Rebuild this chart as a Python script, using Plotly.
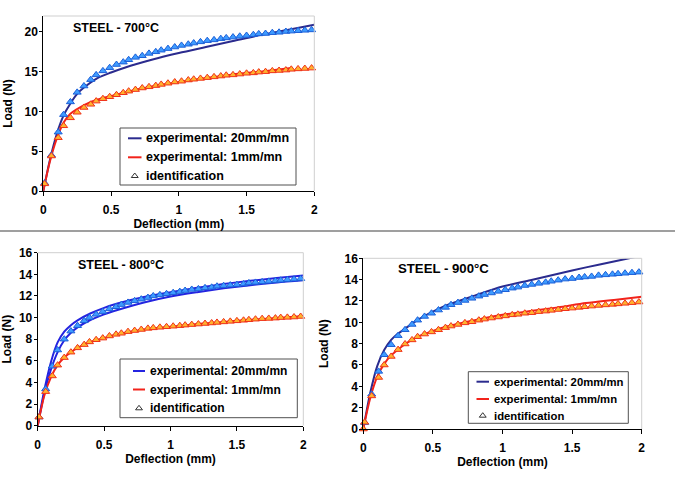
import plotly.graph_objects as go

# ---------------- data ----------------
ident_x = [0.01, 0.06, 0.11, 0.15, 0.20, 0.25, 0.30, 0.35, 0.39, 0.44, 0.49, 0.54, 0.59, 0.63,
           0.68, 0.73, 0.78, 0.83, 0.87, 0.92, 0.97, 1.02, 1.07, 1.11, 1.16, 1.21, 1.26, 1.31,
           1.35, 1.40, 1.45, 1.50, 1.55, 1.59, 1.64, 1.69, 1.74, 1.79, 1.83, 1.88, 1.93, 1.98]

line_x = [0, 0.05, 0.1, 0.15, 0.2, 0.25, 0.3, 0.4, 0.5, 0.6, 0.8, 1.0, 1.2, 1.4, 1.6, 1.8, 2.0]

# 700 C
blue700_line = [0, 4.0, 7.2, 9.5, 11.0, 12.2, 13.0, 14.2, 14.9, 15.5, 16.5, 17.35, 18.1, 18.85, 19.6, 20.25, 20.9]
red700_line_x = [0, 0.05, 0.1, 0.15, 0.2, 0.25, 0.3, 0.4, 0.5, 0.6, 0.8, 1.0, 1.2, 1.4, 1.6, 1.83]
red700_line = [0, 3.8, 6.6, 8.6, 9.7, 10.3, 10.8, 11.5, 11.95, 12.4, 13.15, 13.7, 14.2, 14.65, 15.0, 15.45]
blue700_tri = [1.0, 4.5, 7.4, 9.6, 11.2, 12.4, 13.2, 14.0, 14.6, 15.1, 15.5, 15.9, 16.2, 16.5, 16.8, 17.0,
               17.3, 17.5, 17.7, 17.9, 18.1, 18.3, 18.45, 18.6, 18.75, 18.9, 19.0, 19.15, 19.25, 19.35,
               19.45, 19.55, 19.65, 19.75, 19.8, 19.9, 19.95, 20.05, 20.1, 20.15, 20.2, 20.25]
red700_tri = [0.9, 4.4, 6.7, 8.2, 9.2, 9.9, 10.5, 10.9, 11.3, 11.6, 11.85, 12.1, 12.35, 12.55, 12.75, 12.95,
              13.1, 13.25, 13.4, 13.55, 13.7, 13.8, 13.95, 14.05, 14.15, 14.25, 14.35, 14.45, 14.55, 14.6,
              14.7, 14.8, 14.85, 14.95, 15.0, 15.1, 15.15, 15.2, 15.3, 15.35, 15.4, 15.45]

# 800 C
blue800_lineA = [0, 3.3, 5.9, 7.7, 8.7, 9.3, 9.75, 10.4, 10.9, 11.3, 11.9, 12.35, 12.75, 13.1, 13.4, 13.65, 13.9]
blue800_lineB = [0, 3.0, 5.2, 6.8, 7.9, 8.6, 9.1, 9.8, 10.3, 10.7, 11.4, 11.95, 12.35, 12.7, 13.0, 13.25, 13.45]
red800_line = [0, 2.8, 4.5, 5.6, 6.3, 6.8, 7.2, 7.75, 8.1, 8.45, 8.9, 9.15, 9.4, 9.6, 9.8, 9.95, 10.15]
blue800_tri = [0.8, 3.4, 5.5, 7.0, 8.0, 8.75, 9.25, 9.7, 10.0, 10.3, 10.55, 10.8, 11.0, 11.2, 11.4, 11.55,
               11.7, 11.85, 12.0, 12.1, 12.2, 12.3, 12.4, 12.5, 12.6, 12.65, 12.75, 12.8, 12.9, 12.95,
               13.0, 13.05, 13.1, 13.2, 13.25, 13.3, 13.35, 13.4, 13.45, 13.5, 13.55, 13.6]
red800_tri = [0.8, 3.15, 4.6, 5.6, 6.3, 6.8, 7.2, 7.5, 7.75, 7.95, 8.1, 8.3, 8.45, 8.55, 8.7, 8.8,
              8.9, 9.0, 9.05, 9.1, 9.15, 9.2, 9.25, 9.3, 9.35, 9.4, 9.45, 9.5, 9.55, 9.6,
              9.65, 9.7, 9.75, 9.8, 9.85, 9.9, 9.92, 9.95, 10.0, 10.02, 10.05, 10.1]

# 900 C
blue900_line_x = [0, 0.05, 0.1, 0.15, 0.2, 0.25, 0.3, 0.4, 0.5, 0.6, 0.8, 1.0, 1.2, 1.4, 1.6, 1.8, 1.98]
blue900_line = [0, 3.4, 5.9, 7.4, 8.35, 8.95, 9.4, 10.3, 11.0, 11.6, 12.5, 13.35, 13.95, 14.55, 15.15, 15.7, 16.2]
red900_line = [0, 2.9, 4.9, 6.1, 6.9, 7.45, 7.95, 8.7, 9.2, 9.6, 10.2, 10.7, 11.05, 11.4, 11.8, 12.1, 12.4]
blue900_tri = [0.6, 3.26, 5.4, 6.96, 7.9, 8.75, 9.3, 9.8, 10.2, 10.55, 10.85, 11.15, 11.4, 11.65, 11.85, 12.05,
               12.25, 12.45, 12.6, 12.75, 12.9, 13.05, 13.2, 13.3, 13.45, 13.55, 13.65, 13.75, 13.85, 13.95,
               14.05, 14.1, 14.2, 14.25, 14.3, 14.4, 14.45, 14.5, 14.55, 14.6, 14.65, 14.7]
red900_tri_x = [0.0] + ident_x
red900_tri = [0.0, 0.63, 3.1, 4.83, 6.0, 6.8, 7.44, 7.97, 8.35, 8.65, 8.9, 9.1, 9.3, 9.5, 9.65, 9.8,
              9.95, 10.05, 10.2, 10.3, 10.4, 10.5, 10.6, 10.7, 10.75, 10.85, 10.9, 11.0, 11.05, 11.12,
              11.2, 11.27, 11.33, 11.4, 11.46, 11.52, 11.58, 11.63, 11.68, 11.73, 11.78, 11.84, 11.9]

titles = ["STEEL - 700°C", "STEEL - 800°C", "STEEL - 900°C"]
legend_labels = ["experimental: 20mm/mn", "experimental: 1mm/mn", "identification"]
x_ticks = [0, 0.5, 1, 1.5, 2]
x_ticktext = ["0", "0.5", "1", "1.5", "2"]

# ---------------- styles ----------------
W, H = 675, 479
FONT = "Liberation Sans, Arial, sans-serif"
NAVY = "#2B2B8E"
BRIGHT_BLUE = "#2424E0"
RED = "#F2231B"
TRI_BLUE = dict(color="#3E9CFF", line=dict(color="#1C5FD8", width=1))
TRI_ORANGE = dict(color="#FFB22E", line=dict(color="#F0321A", width=1))


def px(x):
    return x / W


def py(y):
    return 1 - y / H


fig = go.Figure()


def line(x, y, color, ax):
    fig.add_trace(go.Scatter(x=x, y=y, mode="lines", cliponaxis=False,
                             line=dict(color=color, width=2, shape="spline", smoothing=0.8),
                             xaxis=ax[0], yaxis=ax[1], showlegend=False, hoverinfo="skip"))


def tri(x, y, style, ax):
    fig.add_trace(go.Scatter(x=x, y=y, mode="markers", cliponaxis=False,
                             marker=dict(symbol="triangle-up", size=7, **style),
                             xaxis=ax[0], yaxis=ax[1], showlegend=False))


A1, A2, A3 = ("x", "y"), ("x2", "y2"), ("x3", "y3")

# 700
line(line_x, blue700_line, NAVY, A1)
line(red700_line_x, red700_line, RED, A1)
tri(ident_x, blue700_tri, TRI_BLUE, A1)
tri(ident_x, red700_tri, TRI_ORANGE, A1)
# 800
line(line_x, blue800_lineA, BRIGHT_BLUE, A2)
line(line_x, blue800_lineB, BRIGHT_BLUE, A2)
line(line_x, red800_line, RED, A2)
tri(ident_x, blue800_tri, TRI_BLUE, A2)
tri(ident_x, red800_tri, TRI_ORANGE, A2)
# 900
line(blue900_line_x, blue900_line, NAVY, A3)
line(line_x, red900_line, RED, A3)
tri(ident_x, blue900_tri, TRI_BLUE, A3)
tri(red900_tri_x, red900_tri, TRI_ORANGE, A3)

# plot-area pixel boxes (left, top, right, bottom)
boxes = [(43.3, 16, 314.3, 191), (37.7, 252.7, 303.3, 425.7), (363.3, 258.3, 641.7, 429)]
yranges = [[0, 22], [0, 16], [0, 16]]
ydticks = [5, 2, 2]
ystand = [9, 22, 13]
xstand = [0, 3, 3]

tickfont = dict(family=FONT, size=12, color="black", weight="bold")
titlefont = dict(family=FONT, size=12, color="black", weight="bold")

for i, (l, t, r, b) in enumerate(boxes):
    sfx = "" if i == 0 else str(i + 1)
    fig.update_layout(**{
        "xaxis" + sfx: dict(domain=[px(l), px(r)], range=[0, 2], tickvals=x_ticks, ticktext=x_ticktext,
                            anchor="y" + sfx, showline=True, linecolor="black", linewidth=1,
                            ticks="outside", ticklen=4, tickcolor="black", showgrid=False, zeroline=False,
                            tickfont=tickfont, automargin=False, ticklabelstandoff=4,
                            title=dict(text="Deflection (mm)", font=titlefont, standoff=xstand[i])),
        "yaxis" + sfx: dict(domain=[py(b), py(t)], range=yranges[i], dtick=ydticks[i], tick0=0,
                            anchor="x" + sfx, showline=True, linecolor="black", linewidth=1,
                            ticks="outside", ticklen=3, tickcolor="black", showgrid=False, zeroline=False,
                            tickfont=tickfont, automargin=False, ticklabelstandoff=-1,
                            title=dict(text="Load (N)", font=titlefont, standoff=ystand[i])),
    })
    xr = "x" + sfx + " domain"
    yr = "y" + sfx + " domain"
    fig.add_shape(type="line", xref=xr, yref=yr, x0=0, x1=1, y0=1, y1=1, line=dict(color="#CFCFCF", width=1))
    fig.add_shape(type="line", xref=xr, yref=yr, x0=1, x1=1, y0=0, y1=1, line=dict(color="#CFCFCF", width=1))

# full-page overlay axes in pixel units, used only for the legend symbols
fig.update_layout(
    xaxis4=dict(domain=[0, 1], range=[0, W], visible=False, fixedrange=True, anchor="y4"),
    yaxis4=dict(domain=[0, 1], range=[H, 0], visible=False, fixedrange=True, anchor="x4"),
)

# chart titles
title_pos = [(71, 28.5, 12.5), (76, 264.5, 12.5), (396, 268.5, 13.2)]
for txt, (x, y, s) in zip(titles, title_pos):
    fig.add_annotation(text=txt, x=px(x), y=py(y), xref="paper", yref="paper", xanchor="left", yanchor="middle",
                       showarrow=False, font=dict(family=FONT, size=s, color="black", weight="bold"))

# legends (box, rows, line-sample, text start, font size, line colour)
legends = [
    ((120, 128, 296, 185), (138.3, 157.3, 176), (128, 141.5), 143.5, 12.5, NAVY),
    ((120, 359, 297.3, 417.7), (371, 389.5, 408.3), (133, 145), 147.5, 12, BRIGHT_BLUE),
    ((468.3, 371.7, 628.3, 423.3), (381.7, 399, 415.7), (476.5, 489), 491.5, 11.3, NAVY),
]
sym_x, sym_y = [], []
for (bx0, by0, bx1, by1), rows, (lx0, lx1), tx, fs, bcol in legends:
    fig.add_shape(type="rect", xref="paper", yref="paper", x0=px(bx0), x1=px(bx1), y0=py(by1), y1=py(by0),
                  line=dict(color="#505050", width=1), fillcolor="rgba(0,0,0,0)", layer="above")
    for k, col in enumerate([bcol, RED]):
        fig.add_shape(type="line", xref="paper", yref="paper", x0=px(lx0), x1=px(lx1), y0=py(rows[k]),
                      y1=py(rows[k]), line=dict(color=col, width=2), layer="above")
    sym_x.append((lx0 + lx1) / 2)
    sym_y.append(rows[2])
    for k, lab in enumerate(legend_labels):
        fig.add_annotation(text=lab, x=px(tx), y=py(rows[k]), xref="paper", yref="paper", xanchor="left",
                           yanchor="middle", showarrow=False,
                           font=dict(family=FONT, size=fs, color="black", weight="bold"))

fig.add_trace(go.Scatter(x=sym_x, y=sym_y, mode="markers", xaxis="x4", yaxis="y4", showlegend=False,
                         hoverinfo="skip",
                         marker=dict(symbol="triangle-up-open", size=6, color="#333333", line=dict(width=1))))

# separator line between the two rows of charts
fig.add_shape(type="line", xref="paper", yref="paper", x0=0, x1=1, y0=py(231), y1=py(231),
              line=dict(color="#7F7F7F", width=1.5))

fig.update_layout(width=W, height=H, margin=dict(l=0, r=0, t=0, b=0), paper_bgcolor="white",
                  plot_bgcolor="rgba(0,0,0,0)", showlegend=False)

fig.write_html("out.html")
